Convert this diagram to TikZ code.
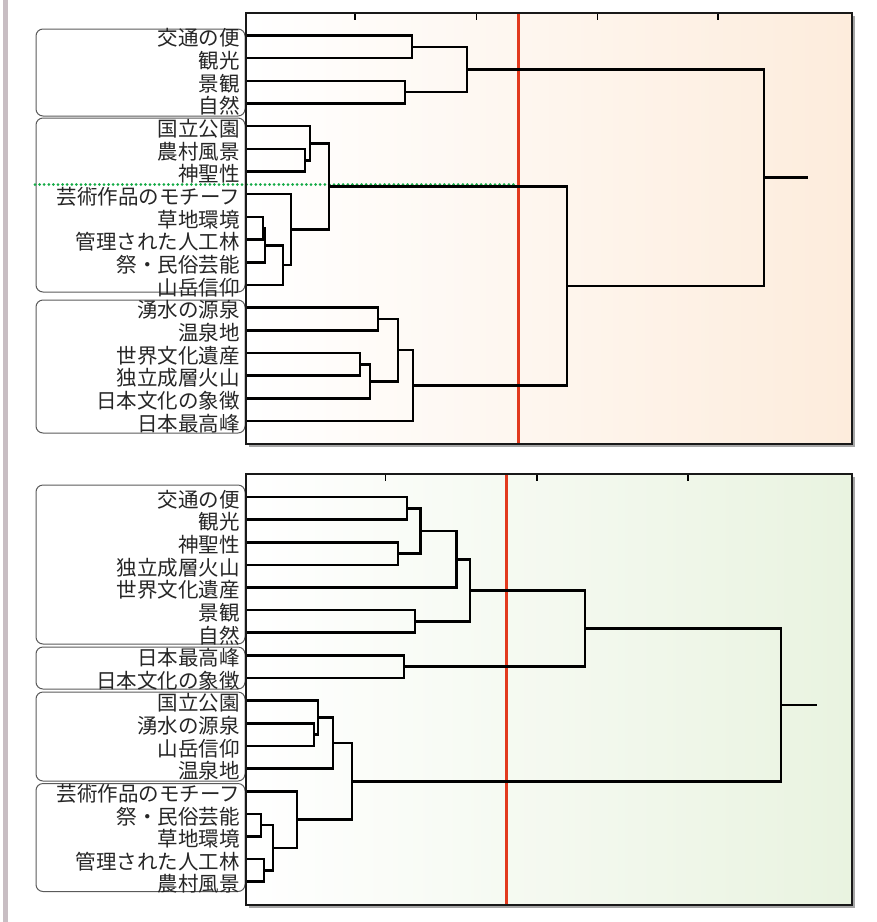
\documentclass[tikz,border=0pt]{standalone}
\usepackage{fontspec}
\newfontfamily\jpfont{Noto Sans CJK JP}
\definecolor{barcol}{RGB}{200,190,195}
\definecolor{redcut}{RGB}{226,58,30}
\definecolor{greendot}{RGB}{20,170,70}
\definecolor{orangetint}{RGB}{253,236,220}
\definecolor{greentint}{RGB}{233,243,224}
\definecolor{framecol}{RGB}{90,90,90}
\tikzset{
  lbl/.style={anchor=east, inner sep=0pt, font=\jpfont\fontsize{20.5}{22}\selectfont, text=black!85},
  dend/.style={line width=2.6pt, black},
  grp/.style={draw=framecol, line width=1pt, rounded corners=7pt},
  panelframe/.style={draw=black!90, line width=2.4pt},
  tick/.style={line width=1.2pt, black},
  cut/.style={draw=redcut, line width=3pt},
}
\begin{document}
\begin{tikzpicture}[x=1pt,y=-1pt]
\useasboundingbox (0,0) rectangle (877,922);
\fill[barcol] (3,0) rectangle (8,922);

% ---------------- top panel ----------------
\fill[black!35] (249,16) rectangle (855,447);
\shade[left color=white, right color=orangetint] (246,13) rectangle (852,444);
\foreach \tx in {355,476.5,597.5,718} \draw[tick] (\tx,13) -- (\tx,20);
\draw[cut] (518,13) -- (518,444);

% group frames
\draw[grp] (36,29) rectangle (245,116);
\draw[grp] (36,118) rectangle (245,292);
\draw[grp] (36,300) rectangle (245,433);

% leaves
\foreach \i/\t in {0/交通の便,1/観光,2/景観,3/自然,4/国立公園,5/農村風景,6/神聖性,7/芸術作品のモチーフ,8/草地環境,9/管理された人工林,10/祭・民俗芸能,11/山岳信仰,12/湧水の源泉,13/温泉地,14/世界文化遺産,15/独立成層火山,16/日本文化の象徴,17/日本最高峰}{
  \pgfmathsetmacro{\yy}{35.5+22.67*\i}
  \node[lbl] (tl\i) at (240,\yy+2.5) {\t};
  \coordinate (t\i) at (247,\yy);
}
% internal nodes (top)
\coordinate (a1) at (412,46.85);
\coordinate (a2) at (405,92.15);
\coordinate (a3) at (467,69.5);
\coordinate (b1) at (305,160.2);
\coordinate (b2) at (310,143.2);
\coordinate (b3) at (263,228.2);
\coordinate (b4) at (265,245.2);
\coordinate (b5) at (283,265.05);
\coordinate (b6) at (291,229.6);
\coordinate (b7) at (329,186.4);
\coordinate (c1) at (378,318.85);
\coordinate (c2) at (360,364.25);
\coordinate (c3) at (370,381.2);
\coordinate (c4) at (398,350.0);
\coordinate (c5) at (413,385.45);
\coordinate (d1) at (567,285.9);
\coordinate (r1) at (764,177.7);
\coordinate (s1) at (808,177.7);

\draw[greendot, line width=3pt, line cap=round, dash pattern=on 0pt off 4.6pt] (35,184.5) -- (517,184.5);

\draw[dend] (t0) -| (a1) |- (t1);
\draw[dend] (t2) -| (a2) |- (t3);
\draw[dend] (a1) -| (a3) |- (a2);
\draw[dend] (t5) -| (b1) |- (t6);
\draw[dend] (t4) -| (b2) |- (b1);
\draw[dend] (t8) -| (b3) |- (t9);
\draw[dend] (b3) -| (b4) |- (t10);
\draw[dend] (b4) -| (b5) |- (t11);
\draw[dend] (t7) -| (b6) |- (b5);
\draw[dend] (b2) -| (b7) |- (b6);
\draw[dend] (t12) -| (c1) |- (t13);
\draw[dend] (t14) -| (c2) |- (t15);
\draw[dend] (c2) -| (c3) |- (t16);
\draw[dend] (c1) -| (c4) |- (c3);
\draw[dend] (c4) -| (c5) |- (t17);
\draw[dend] (b7) -| (d1) |- (c5);
\draw[dend] (a3) -| (r1) |- (d1);
\draw[dend] (r1) -- (s1);

\draw[panelframe] (246,13) rectangle (852,444);

% ---------------- bottom panel ----------------
\fill[black!35] (249,477) rectangle (855,908);
\shade[left color=white, right color=greentint] (246,474) rectangle (852,905);
\foreach \tx in {385.7,537,688} \draw[tick] (\tx,474) -- (\tx,481);
\draw[cut] (506.7,474) -- (506.7,905);

\draw[grp] (36,485) rectangle (245,644);
\draw[grp] (36,647) rectangle (245,689);
\draw[grp] (36,692) rectangle (245,781);
\draw[grp] (36,783.5) rectangle (245,891.5);

\foreach \i/\t in {0/交通の便,1/観光,2/神聖性,3/独立成層火山,4/世界文化遺産,5/景観,6/自然,7/日本最高峰,8/日本文化の象徴,9/国立公園,10/湧水の源泉,11/山岳信仰,12/温泉地,13/芸術作品のモチーフ,14/祭・民俗芸能,15/草地環境,16/管理された人工林,17/農村風景}{
  \pgfmathsetmacro{\yy}{497+22.63*\i}
  \node[lbl] (ul\i) at (240,\yy+2.5) {\t};
  \coordinate (u\i) at (247,\yy);
}
\coordinate (e1) at (407,508.3);
\coordinate (e2) at (398,553.6);
\coordinate (e3) at (420.7,530.95);
\coordinate (e4) at (456.7,559.2);
\coordinate (e5) at (415,621.5);
\coordinate (e6) at (470,590.35);
\coordinate (e7) at (404,666.7);
\coordinate (e8) at (585,628.5);
\coordinate (f1) at (314,734.6);
\coordinate (f2) at (318,717.65);
\coordinate (f3) at (333,743.1);
\coordinate (g1) at (261,825.15);
\coordinate (g2) at (264,870.4);
\coordinate (g3) at (273,847.8);
\coordinate (g4) at (297,819.5);
\coordinate (f4) at (352,781.3);
\coordinate (r2) at (781,704.9);
\coordinate (s2) at (816.7,704.9);

\draw[dend] (u0) -| (e1) |- (u1);
\draw[dend] (u2) -| (e2) |- (u3);
\draw[dend] (e1) -| (e3) |- (e2);
\draw[dend] (e3) -| (e4) |- (u4);
\draw[dend] (u5) -| (e5) |- (u6);
\draw[dend] (e4) -| (e6) |- (e5);
\draw[dend] (u7) -| (e7) |- (u8);
\draw[dend] (e6) -| (e8) |- (e7);
\draw[dend] (u10) -| (f1) |- (u11);
\draw[dend] (u9) -| (f2) |- (f1);
\draw[dend] (f2) -| (f3) |- (u12);
\draw[dend] (u14) -| (g1) |- (u15);
\draw[dend] (u16) -| (g2) |- (u17);
\draw[dend] (g1) -| (g3) |- (g2);
\draw[dend] (u13) -| (g4) |- (g3);
\draw[dend] (f3) -| (f4) |- (g4);
\draw[dend] (e8) -| (r2) |- (f4);
\draw[dend] (r2) -- (s2);

\draw[panelframe] (246,474) rectangle (852,905);
\end{tikzpicture}
\end{document}
